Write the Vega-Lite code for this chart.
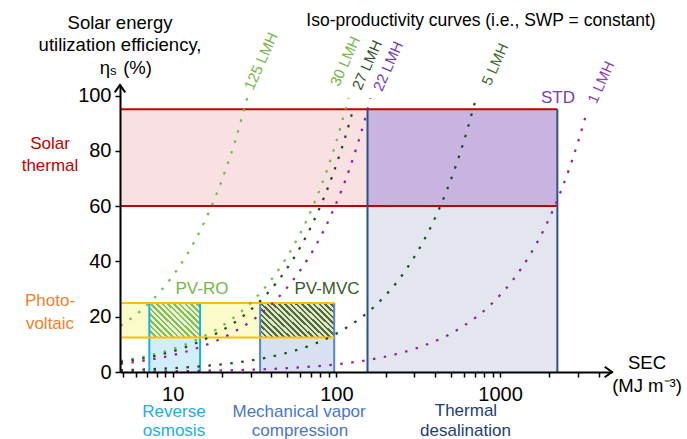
{
"$schema": "https://vega.github.io/schema/vega-lite/v6.json",
"width": 492, "height": 287,
"autosize": {"type": "none"},
"padding": {"left": 120, "top": 85, "right": 75, "bottom": 67},
"config": {"view": {"stroke": null}, "font": "Liberation Sans",
  "axis": {"domainColor": "#000000", "domainWidth": 2, "tickColor": "#000000", "tickWidth": 1.5, "tickSize": 5, "grid": false, "labelFont": "Liberation Sans", "labelFontSize": 20, "labelColor": "#000000", "labelFlush": false, "labelOverlap": false, "title": null},
  "axisX": {"labelPadding": 7},
  "axisY": {"labelPadding": 4}},
"datasets": {
  "regions": [
    {"name": "solar", "x": 4.765, "x2": 2240, "y": 60, "y2": 95},
    {"name": "thermal", "x": 155, "x2": 2240, "y": 0, "y2": 95},
    {"name": "ro", "x": 7.2, "x2": 14.7, "y": 0, "y2": 25},
    {"name": "mvc", "x": 34.2, "x2": 97, "y": 0, "y2": 25},
    {"name": "pv", "x": 4.765, "x2": 97, "y": 12.5, "y2": 25},
    {"name": "std", "x": 155, "x2": 2240, "y": 60, "y2": 95}
  ],
  "pvro": [{"x": 7.2, "x2": 14.7, "y": 12.5, "y2": 25}],
  "pvmvc": [{"x": 34.2, "x2": 97, "y": 12.5, "y2": 25}],
  "borders": [
    {"name": "solar", "x": 4.765, "x2": 2240, "y": 95, "y2": 95},
    {"name": "solar", "x": 4.765, "x2": 2240, "y": 60, "y2": 60},
    {"name": "thermal", "x": 155, "x2": 155, "y": 0, "y2": 95},
    {"name": "thermal", "x": 2240, "x2": 2240, "y": 0, "y2": 95},
    {"name": "ro", "x": 7.2, "x2": 7.2, "y": 0, "y2": 25},
    {"name": "ro", "x": 14.7, "x2": 14.7, "y": 0, "y2": 25},
    {"name": "mvc", "x": 34.2, "x2": 34.2, "y": 0, "y2": 25},
    {"name": "mvc", "x": 97, "x2": 97, "y": 0, "y2": 25},
    {"name": "pv", "x": 4.765, "x2": 97, "y": 25, "y2": 25},
    {"name": "pv", "x": 4.765, "x2": 97, "y": 12.5, "y2": 12.5}
  ],
  "curves": [
    {"f": "125", "sec": 4.8, "eta": 16.7}, {"f": "125", "sec": 6, "eta": 20.8}, {"f": "125", "sec": 7.5, "eta": 26.0}, {"f": "125", "sec": 9.5, "eta": 33.0}, {"f": "125", "sec": 12, "eta": 41.7}, {"f": "125", "sec": 15, "eta": 52.1}, {"f": "125", "sec": 19, "eta": 66.0}, {"f": "125", "sec": 24, "eta": 83.3}, {"f": "125", "sec": 28.8, "eta": 100},
    {"f": "30", "sec": 4.8, "eta": 4.0}, {"f": "30", "sec": 6, "eta": 5.0}, {"f": "30", "sec": 7.5, "eta": 6.25}, {"f": "30", "sec": 9.5, "eta": 7.9}, {"f": "30", "sec": 12, "eta": 10.0}, {"f": "30", "sec": 15, "eta": 12.5}, {"f": "30", "sec": 19, "eta": 15.8}, {"f": "30", "sec": 24, "eta": 20.0}, {"f": "30", "sec": 30, "eta": 25.0}, {"f": "30", "sec": 38, "eta": 31.7}, {"f": "30", "sec": 48, "eta": 40.0}, {"f": "30", "sec": 60, "eta": 50.0}, {"f": "30", "sec": 75, "eta": 62.5}, {"f": "30", "sec": 95, "eta": 79.2}, {"f": "30", "sec": 119, "eta": 99.2},
    {"f": "27", "sec": 4.8, "eta": 3.6}, {"f": "27", "sec": 6, "eta": 4.5}, {"f": "27", "sec": 7.5, "eta": 5.6}, {"f": "27", "sec": 9.5, "eta": 7.1}, {"f": "27", "sec": 12, "eta": 9.0}, {"f": "27", "sec": 15, "eta": 11.3}, {"f": "27", "sec": 19, "eta": 14.3}, {"f": "27", "sec": 24, "eta": 18.0}, {"f": "27", "sec": 30, "eta": 22.5}, {"f": "27", "sec": 38, "eta": 28.5}, {"f": "27", "sec": 48, "eta": 36.0}, {"f": "27", "sec": 60, "eta": 45.0}, {"f": "27", "sec": 75, "eta": 56.3}, {"f": "27", "sec": 95, "eta": 71.3}, {"f": "27", "sec": 120, "eta": 90.0}, {"f": "27", "sec": 128, "eta": 96},
    {"f": "22", "sec": 4.8, "eta": 2.9}, {"f": "22", "sec": 6, "eta": 3.7}, {"f": "22", "sec": 7.5, "eta": 4.6}, {"f": "22", "sec": 9.5, "eta": 5.8}, {"f": "22", "sec": 12, "eta": 7.3}, {"f": "22", "sec": 15, "eta": 9.2}, {"f": "22", "sec": 19, "eta": 11.6}, {"f": "22", "sec": 24, "eta": 14.7}, {"f": "22", "sec": 30, "eta": 18.3}, {"f": "22", "sec": 38, "eta": 23.2}, {"f": "22", "sec": 48, "eta": 29.3}, {"f": "22", "sec": 60, "eta": 36.7}, {"f": "22", "sec": 75, "eta": 45.8}, {"f": "22", "sec": 95, "eta": 58.1}, {"f": "22", "sec": 120, "eta": 73.3}, {"f": "22", "sec": 150, "eta": 91.7}, {"f": "22", "sec": 162, "eta": 99},
    {"f": "5", "sec": 4.8, "eta": 0.67}, {"f": "5", "sec": 6, "eta": 0.83}, {"f": "5", "sec": 7.5, "eta": 1.04}, {"f": "5", "sec": 9.5, "eta": 1.32}, {"f": "5", "sec": 12, "eta": 1.67}, {"f": "5", "sec": 15, "eta": 2.08}, {"f": "5", "sec": 19, "eta": 2.64}, {"f": "5", "sec": 24, "eta": 3.33}, {"f": "5", "sec": 30, "eta": 4.17}, {"f": "5", "sec": 38, "eta": 5.28}, {"f": "5", "sec": 48, "eta": 6.67}, {"f": "5", "sec": 60, "eta": 8.33}, {"f": "5", "sec": 75, "eta": 10.4}, {"f": "5", "sec": 95, "eta": 13.2}, {"f": "5", "sec": 120, "eta": 16.7}, {"f": "5", "sec": 150, "eta": 20.8}, {"f": "5", "sec": 190, "eta": 26.4}, {"f": "5", "sec": 240, "eta": 33.3}, {"f": "5", "sec": 300, "eta": 41.7}, {"f": "5", "sec": 380, "eta": 52.8}, {"f": "5", "sec": 480, "eta": 66.7}, {"f": "5", "sec": 600, "eta": 83.3}, {"f": "5", "sec": 711, "eta": 98.75},
    {"f": "1", "sec": 4.8, "eta": 0.13}, {"f": "1", "sec": 6, "eta": 0.17}, {"f": "1", "sec": 7.5, "eta": 0.21}, {"f": "1", "sec": 9.5, "eta": 0.26}, {"f": "1", "sec": 12, "eta": 0.33}, {"f": "1", "sec": 15, "eta": 0.42}, {"f": "1", "sec": 19, "eta": 0.53}, {"f": "1", "sec": 24, "eta": 0.67}, {"f": "1", "sec": 30, "eta": 0.83}, {"f": "1", "sec": 38, "eta": 1.06}, {"f": "1", "sec": 48, "eta": 1.33}, {"f": "1", "sec": 60, "eta": 1.67}, {"f": "1", "sec": 75, "eta": 2.08}, {"f": "1", "sec": 95, "eta": 2.64}, {"f": "1", "sec": 120, "eta": 3.33}, {"f": "1", "sec": 150, "eta": 4.17}, {"f": "1", "sec": 190, "eta": 5.28}, {"f": "1", "sec": 240, "eta": 6.67}, {"f": "1", "sec": 300, "eta": 8.33}, {"f": "1", "sec": 380, "eta": 10.6}, {"f": "1", "sec": 480, "eta": 13.3}, {"f": "1", "sec": 600, "eta": 16.7}, {"f": "1", "sec": 750, "eta": 20.8}, {"f": "1", "sec": 950, "eta": 26.4}, {"f": "1", "sec": 1200, "eta": 33.3}, {"f": "1", "sec": 1500, "eta": 41.7}, {"f": "1", "sec": 1900, "eta": 52.8}, {"f": "1", "sec": 2400, "eta": 66.7}, {"f": "1", "sec": 3000, "eta": 83.3}, {"f": "1", "sec": 3310, "eta": 91.9}
  ],
  "t17": [
    {"t": "Solar", "x": 1.78, "y": 82.3, "g": "red"},
    {"t": "thermal", "x": 1.78, "y": 74.4, "g": "red"},
    {"t": "Photo-", "x": 1.78, "y": 25.5, "g": "orange"},
    {"t": "voltaic", "x": 1.78, "y": 17.4, "g": "orange"},
    {"t": "PV-RO", "x": 15.1, "y": 29.9, "g": "ltgreen"},
    {"t": "PV-MVC", "x": 87.7, "y": 29.9, "g": "dkgreen"},
    {"t": "STD", "x": 2259, "y": 99.0, "g": "purple"}
  ],
  "ttitle": [
    {"t": "Iso-productivity curves (i.e., SWP = constant)", "x": 765, "y": 126.8}
  ],
  "tbottom": [
    {"t": "Reverse", "x": 10.18, "y": -16.4, "g": "cyan"},
    {"t": "osmosis", "x": 10.18, "y": -23.3, "g": "cyan"},
    {"t": "Mechanical vapor", "x": 59.2, "y": -16.4, "g": "mvc"},
    {"t": "compression", "x": 60, "y": -23.3, "g": "mvc"},
    {"t": "Thermal", "x": 619, "y": -16.0, "g": "navy"},
    {"t": "desalination", "x": 615, "y": -23.1, "g": "navy"}
  ],
  "taxis": [
    {"t": "Solar energy", "x": 4.765, "y": 126.3},
    {"t": "utilization efficiency,", "x": 4.765, "y": 118.3},
    {"t": "η", "x": 3.85, "y": 109.9},
    {"t": "(%)", "x": 6.1, "y": 109.9},
    {"t": "SEC", "x": 7907, "y": 3.3},
    {"t": "(MJ m⁻³)", "x": 7907, "y": -4.9}
  ],
  "tsub": [{"t": "s", "x": 4.33, "y": 108.8}],
  "tcurve": [
    {"t": "125 LMH", "x": 34.6, "y": 112.4, "g": "125"},
    {"t": "30 LMH", "x": 113, "y": 112.4, "g": "30"},
    {"t": "27 LMH", "x": 154, "y": 111, "g": "27"},
    {"t": "22 LMH", "x": 207, "y": 110.6, "g": "22"},
    {"t": "5 LMH", "x": 932, "y": 111.3, "g": "5"},
    {"t": "1 LMH", "x": 4140, "y": 104.8, "g": "1"}
  ]
},
"resolve": {"scale": {"color": "independent", "fill": "independent", "stroke": "independent"}},
"layer": [
  {"data": {"name": "regions"}, "mark": {"type": "rect"},
   "encoding": {
     "x": {"field": "x", "type": "quantitative", "scale": {"type": "log", "domain": [4.765, 4832]},
       "axis": {"title": null, "values": [5,6,7,8,9,10,20,30,40,50,60,70,80,90,100,200,300,400,500,600,700,800,900,1000,2000,3000,4000], "format": "d", "labelExpr": "datum.value == 10 || datum.value == 100 || datum.value == 1000 ? datum.label : ''", "zindex": 1}},
     "x2": {"field": "x2"},
     "y": {"field": "y", "type": "quantitative", "scale": {"domain": [0, 103.8], "nice": false, "zero": false},
       "axis": {"title": null, "values": [0,10,20,30,40,50,60,70,80,90,100], "labelExpr": "datum.value % 20 == 0 ? datum.label : ''", "zindex": 1}},
     "y2": {"field": "y2"},
     "fill": {"field": "name", "type": "nominal", "legend": null, "scale": {"domain": ["solar","thermal","ro","mvc","pv","std"], "range": ["#f8e0e3","#e3e6ef","#d3eefa","#d8e1f2","#fbfbc9","#c9b3e0"]}}
   }},
  {"data": {"name": "pvro"},
   "mark": {"type": "rect", "fill": {"gradient": "linear", "x1": 0, "y1": 1, "x2": 1.146, "y2": 0.213, "stops": [
     {"offset": 0, "color": "#82c052"}, {"offset": 0.03, "color": "#82c052"}, {"offset": 0.03, "color": "#eef5d8"}, {"offset": 0.0667, "color": "#eef5d8"},
     {"offset": 0.0667, "color": "#82c052"}, {"offset": 0.0967, "color": "#82c052"}, {"offset": 0.0967, "color": "#eef5d8"}, {"offset": 0.1333, "color": "#eef5d8"},
     {"offset": 0.1333, "color": "#82c052"}, {"offset": 0.1633, "color": "#82c052"}, {"offset": 0.1633, "color": "#eef5d8"}, {"offset": 0.2, "color": "#eef5d8"},
     {"offset": 0.2, "color": "#82c052"}, {"offset": 0.23, "color": "#82c052"}, {"offset": 0.23, "color": "#eef5d8"}, {"offset": 0.2667, "color": "#eef5d8"},
     {"offset": 0.2667, "color": "#82c052"}, {"offset": 0.2967, "color": "#82c052"}, {"offset": 0.2967, "color": "#eef5d8"}, {"offset": 0.3333, "color": "#eef5d8"},
     {"offset": 0.3333, "color": "#82c052"}, {"offset": 0.3633, "color": "#82c052"}, {"offset": 0.3633, "color": "#eef5d8"}, {"offset": 0.4, "color": "#eef5d8"},
     {"offset": 0.4, "color": "#82c052"}, {"offset": 0.43, "color": "#82c052"}, {"offset": 0.43, "color": "#eef5d8"}, {"offset": 0.4667, "color": "#eef5d8"},
     {"offset": 0.4667, "color": "#82c052"}, {"offset": 0.4967, "color": "#82c052"}, {"offset": 0.4967, "color": "#eef5d8"}, {"offset": 0.5333, "color": "#eef5d8"},
     {"offset": 0.5333, "color": "#82c052"}, {"offset": 0.5633, "color": "#82c052"}, {"offset": 0.5633, "color": "#eef5d8"}, {"offset": 0.6, "color": "#eef5d8"},
     {"offset": 0.6, "color": "#82c052"}, {"offset": 0.63, "color": "#82c052"}, {"offset": 0.63, "color": "#eef5d8"}, {"offset": 0.6667, "color": "#eef5d8"},
     {"offset": 0.6667, "color": "#82c052"}, {"offset": 0.6967, "color": "#82c052"}, {"offset": 0.6967, "color": "#eef5d8"}, {"offset": 0.7333, "color": "#eef5d8"},
     {"offset": 0.7333, "color": "#82c052"}, {"offset": 0.7633, "color": "#82c052"}, {"offset": 0.7633, "color": "#eef5d8"}, {"offset": 0.8, "color": "#eef5d8"},
     {"offset": 0.8, "color": "#82c052"}, {"offset": 0.83, "color": "#82c052"}, {"offset": 0.83, "color": "#eef5d8"}, {"offset": 0.8667, "color": "#eef5d8"},
     {"offset": 0.8667, "color": "#82c052"}, {"offset": 0.8967, "color": "#82c052"}, {"offset": 0.8967, "color": "#eef5d8"}, {"offset": 0.9333, "color": "#eef5d8"},
     {"offset": 0.9333, "color": "#82c052"}, {"offset": 0.9633, "color": "#82c052"}, {"offset": 0.9633, "color": "#eef5d8"}, {"offset": 1, "color": "#eef5d8"}
   ]}},
   "encoding": {
     "x": {"field": "x", "type": "quantitative", "scale": {"type": "log", "domain": [4.765, 4832]}},
     "x2": {"field": "x2"},
     "y": {"field": "y", "type": "quantitative", "scale": {"domain": [0, 103.8], "nice": false, "zero": false}},
     "y2": {"field": "y2"}
   }},
  {"data": {"name": "pvmvc"},
   "mark": {"type": "rect", "fill": {"gradient": "linear", "x1": 0, "y1": 1, "x2": 1.203, "y2": 0.423, "stops": [
     {"offset": 0, "color": "#4f6d36"}, {"offset": 0.0237, "color": "#4f6d36"}, {"offset": 0.0237, "color": "#e2e6cc"}, {"offset": 0.0526, "color": "#e2e6cc"},
     {"offset": 0.0526, "color": "#4f6d36"}, {"offset": 0.0763, "color": "#4f6d36"}, {"offset": 0.0763, "color": "#e2e6cc"}, {"offset": 0.1053, "color": "#e2e6cc"},
     {"offset": 0.1053, "color": "#4f6d36"}, {"offset": 0.129, "color": "#4f6d36"}, {"offset": 0.129, "color": "#e2e6cc"}, {"offset": 0.1579, "color": "#e2e6cc"},
     {"offset": 0.1579, "color": "#4f6d36"}, {"offset": 0.1816, "color": "#4f6d36"}, {"offset": 0.1816, "color": "#e2e6cc"}, {"offset": 0.2105, "color": "#e2e6cc"},
     {"offset": 0.2105, "color": "#4f6d36"}, {"offset": 0.2342, "color": "#4f6d36"}, {"offset": 0.2342, "color": "#e2e6cc"}, {"offset": 0.2632, "color": "#e2e6cc"},
     {"offset": 0.2632, "color": "#4f6d36"}, {"offset": 0.2869, "color": "#4f6d36"}, {"offset": 0.2869, "color": "#e2e6cc"}, {"offset": 0.3158, "color": "#e2e6cc"},
     {"offset": 0.3158, "color": "#4f6d36"}, {"offset": 0.3395, "color": "#4f6d36"}, {"offset": 0.3395, "color": "#e2e6cc"}, {"offset": 0.3684, "color": "#e2e6cc"},
     {"offset": 0.3684, "color": "#4f6d36"}, {"offset": 0.3921, "color": "#4f6d36"}, {"offset": 0.3921, "color": "#e2e6cc"}, {"offset": 0.4211, "color": "#e2e6cc"},
     {"offset": 0.4211, "color": "#4f6d36"}, {"offset": 0.4448, "color": "#4f6d36"}, {"offset": 0.4448, "color": "#e2e6cc"}, {"offset": 0.4737, "color": "#e2e6cc"},
     {"offset": 0.4737, "color": "#4f6d36"}, {"offset": 0.4974, "color": "#4f6d36"}, {"offset": 0.4974, "color": "#e2e6cc"}, {"offset": 0.5263, "color": "#e2e6cc"},
     {"offset": 0.5263, "color": "#4f6d36"}, {"offset": 0.55, "color": "#4f6d36"}, {"offset": 0.55, "color": "#e2e6cc"}, {"offset": 0.5789, "color": "#e2e6cc"},
     {"offset": 0.5789, "color": "#4f6d36"}, {"offset": 0.6026, "color": "#4f6d36"}, {"offset": 0.6026, "color": "#e2e6cc"}, {"offset": 0.6316, "color": "#e2e6cc"},
     {"offset": 0.6316, "color": "#4f6d36"}, {"offset": 0.6553, "color": "#4f6d36"}, {"offset": 0.6553, "color": "#e2e6cc"}, {"offset": 0.6842, "color": "#e2e6cc"},
     {"offset": 0.6842, "color": "#4f6d36"}, {"offset": 0.7079, "color": "#4f6d36"}, {"offset": 0.7079, "color": "#e2e6cc"}, {"offset": 0.7368, "color": "#e2e6cc"},
     {"offset": 0.7368, "color": "#4f6d36"}, {"offset": 0.7605, "color": "#4f6d36"}, {"offset": 0.7605, "color": "#e2e6cc"}, {"offset": 0.7895, "color": "#e2e6cc"},
     {"offset": 0.7895, "color": "#4f6d36"}, {"offset": 0.8132, "color": "#4f6d36"}, {"offset": 0.8132, "color": "#e2e6cc"}, {"offset": 0.8421, "color": "#e2e6cc"},
     {"offset": 0.8421, "color": "#4f6d36"}, {"offset": 0.8658, "color": "#4f6d36"}, {"offset": 0.8658, "color": "#e2e6cc"}, {"offset": 0.8947, "color": "#e2e6cc"},
     {"offset": 0.8947, "color": "#4f6d36"}, {"offset": 0.9184, "color": "#4f6d36"}, {"offset": 0.9184, "color": "#e2e6cc"}, {"offset": 0.9474, "color": "#e2e6cc"},
     {"offset": 0.9474, "color": "#4f6d36"}, {"offset": 0.9711, "color": "#4f6d36"}, {"offset": 0.9711, "color": "#e2e6cc"}, {"offset": 1, "color": "#e2e6cc"}
   ]}},
   "encoding": {
     "x": {"field": "x", "type": "quantitative", "scale": {"type": "log", "domain": [4.765, 4832]}},
     "x2": {"field": "x2"},
     "y": {"field": "y", "type": "quantitative", "scale": {"domain": [0, 103.8], "nice": false, "zero": false}},
     "y2": {"field": "y2"}
   }},
  {"data": {"name": "borders"}, "mark": {"type": "rule", "strokeWidth": 2},
   "encoding": {
     "x": {"field": "x", "type": "quantitative", "scale": {"type": "log", "domain": [4.765, 4832]}},
     "x2": {"field": "x2"},
     "y": {"field": "y", "type": "quantitative", "scale": {"domain": [0, 103.8], "nice": false, "zero": false}},
     "y2": {"field": "y2"},
     "stroke": {"field": "name", "type": "nominal", "legend": null, "scale": {"domain": ["solar","thermal","ro","mvc","pv"], "range": ["#c00000","#2c5382","#1aaee6","#5b84cc","#ffc000"]}}
   }},
  {"data": {"name": "curves"}, "mark": {"type": "line", "strokeWidth": 2.2, "strokeDash": [2.5, 8.5], "interpolate": "monotone"},
   "encoding": {
     "x": {"field": "sec", "type": "quantitative", "scale": {"type": "log", "domain": [4.765, 4832]}},
     "y": {"field": "eta", "type": "quantitative", "scale": {"domain": [0, 103.8], "nice": false, "zero": false}},
     "stroke": {"field": "f", "type": "nominal", "legend": null, "scale": {"domain": ["125","30","27","22","5","1"], "range": ["#6cbf45","#6cbf45","#1b4a1b","#951d9e","#1b4a1b","#951d9e"]}}
   }},
  {"data": {"name": "t17"}, "mark": {"type": "text", "fontSize": 17, "align": "center", "baseline": "middle", "font": "Liberation Sans"},
   "encoding": {
     "x": {"field": "x", "type": "quantitative", "scale": {"type": "log", "domain": [4.765, 4832]}},
     "y": {"field": "y", "type": "quantitative", "scale": {"domain": [0, 103.8], "nice": false, "zero": false}},
     "text": {"field": "t"},
     "color": {"field": "g", "type": "nominal", "legend": null, "scale": {"domain": ["red","orange","ltgreen","dkgreen","purple"], "range": ["#c00000","#f07f2c","#76b648","#3a5a28","#7a3cb0"]}}
   }},
  {"data": {"name": "ttitle"}, "mark": {"type": "text", "fontSize": 17.5, "align": "center", "baseline": "middle", "font": "Liberation Sans", "color": "#000000"},
   "encoding": {
     "x": {"field": "x", "type": "quantitative", "scale": {"type": "log", "domain": [4.765, 4832]}},
     "y": {"field": "y", "type": "quantitative", "scale": {"domain": [0, 103.8], "nice": false, "zero": false}},
     "text": {"field": "t"}
   }},
  {"data": {"name": "tbottom"}, "mark": {"type": "text", "fontSize": 17, "align": "center", "baseline": "alphabetic", "font": "Liberation Sans"},
   "encoding": {
     "x": {"field": "x", "type": "quantitative", "scale": {"type": "log", "domain": [4.765, 4832]}},
     "y": {"field": "y", "type": "quantitative", "scale": {"domain": [0, 103.8], "nice": false, "zero": false}},
     "text": {"field": "t"},
     "color": {"field": "g", "type": "nominal", "legend": null, "scale": {"domain": ["cyan","mvc","navy"], "range": ["#1aaee6","#4a76c6","#1f3c73"]}}
   }},
  {"data": {"name": "taxis"}, "mark": {"type": "text", "fontSize": 18.5, "align": "center", "baseline": "middle", "font": "Liberation Sans", "color": "#000000"},
   "encoding": {
     "x": {"field": "x", "type": "quantitative", "scale": {"type": "log", "domain": [4.765, 4832]}},
     "y": {"field": "y", "type": "quantitative", "scale": {"domain": [0, 103.8], "nice": false, "zero": false}},
     "text": {"field": "t"}
   }},
  {"data": {"name": "tsub"}, "mark": {"type": "text", "fontSize": 13, "align": "center", "baseline": "middle", "font": "Liberation Sans", "color": "#000000"},
   "encoding": {
     "x": {"field": "x", "type": "quantitative", "scale": {"type": "log", "domain": [4.765, 4832]}},
     "y": {"field": "y", "type": "quantitative", "scale": {"domain": [0, 103.8], "nice": false, "zero": false}},
     "text": {"field": "t"}
   }},
  {"data": {"name": "tcurve"}, "mark": {"type": "text", "fontSize": 15, "align": "center", "baseline": "middle", "angle": -66, "font": "Liberation Sans"},
   "encoding": {
     "x": {"field": "x", "type": "quantitative", "scale": {"type": "log", "domain": [4.765, 4832]}},
     "y": {"field": "y", "type": "quantitative", "scale": {"domain": [0, 103.8], "nice": false, "zero": false}},
     "text": {"field": "t"},
     "color": {"field": "g", "type": "nominal", "legend": null, "scale": {"domain": ["125","30","27","22","5","1"], "range": ["#76b648","#76b648","#34502a","#7b35b0","#3d6a2c","#8a3cb8"]}}
   }},
  {"data": {"values": [{"a": 1}]},
   "mark": {"type": "point", "shape": "M-1,1.4L0,0L1,1.4", "filled": false, "stroke": "#000000", "strokeWidth": 2, "size": 110, "opacity": 1},
   "encoding": {
     "x": {"datum": 4.765, "type": "quantitative", "scale": {"type": "log", "domain": [4.765, 4832]}},
     "y": {"datum": 103.8, "type": "quantitative", "scale": {"domain": [0, 103.8], "nice": false, "zero": false}}
   }},
  {"data": {"values": [{"a": 1}]},
   "mark": {"type": "point", "shape": "M-1.4,-1L0,0L-1.4,1", "filled": false, "stroke": "#000000", "strokeWidth": 2, "size": 110, "opacity": 1},
   "encoding": {
     "x": {"datum": 4832, "type": "quantitative", "scale": {"type": "log", "domain": [4.765, 4832]}},
     "y": {"datum": 0, "type": "quantitative", "scale": {"domain": [0, 103.8], "nice": false, "zero": false}}
   }}
]
}
